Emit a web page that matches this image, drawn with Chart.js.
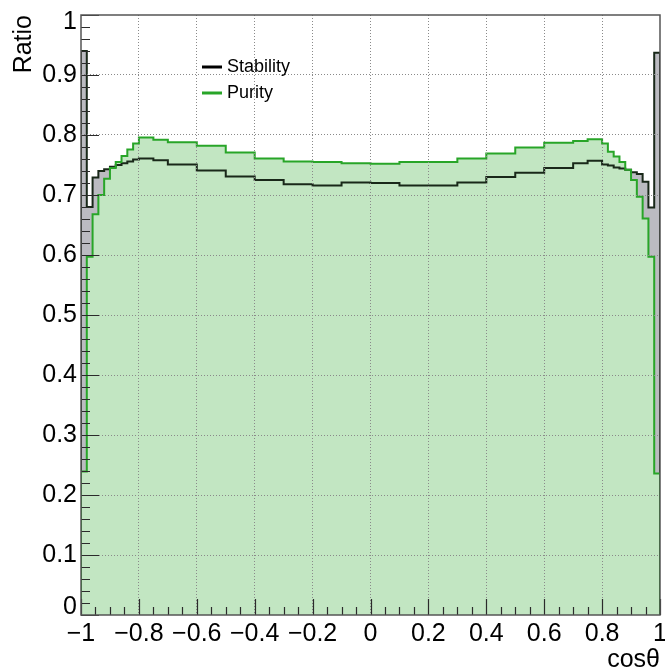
<!DOCTYPE html>
<html>
<head>
<meta charset="utf-8">
<script src="https://cdn.jsdelivr.net/npm/chart.js@4/dist/chart.umd.min.js"></script>
<style>
  html, body { margin: 0; padding: 0; background: #fff; }
  #wrap { width: 665px; height: 669px; }
</style>
</head>
<body>
<div id="wrap"><canvas id="ratioChart" width="665" height="669"></canvas></div>
<script>
// Bin edges in cos(theta): fine bins near the edges, wider in the middle
const binEdges = [-1, -0.98, -0.96, -0.94, -0.92, -0.9, -0.88, -0.86, -0.84, -0.82, -0.8,
    -0.75, -0.7, -0.6, -0.5, -0.4, -0.3, -0.2, -0.1, 0, 0.1, 0.2, 0.3, 0.4, 0.5, 0.6, 0.7, 0.75,
    0.8, 0.82, 0.84, 0.86, 0.88, 0.9, 0.92, 0.94, 0.96, 0.98, 1];

// Bin contents, one per bin
const stability = [0.940, 0.680, 0.729, 0.740, 0.743, 0.747, 0.750, 0.753, 0.756, 0.759,
    0.761, 0.758, 0.751, 0.741, 0.731, 0.725, 0.718, 0.716, 0.721,
    0.720, 0.716, 0.716, 0.721, 0.730, 0.737, 0.745, 0.753, 0.757,
    0.751, 0.749, 0.746, 0.744, 0.742, 0.738, 0.735, 0.722, 0.679, 0.937];

const purity = [0.239, 0.597, 0.668, 0.700, 0.727, 0.745, 0.755, 0.765, 0.776, 0.786,
    0.796, 0.792, 0.788, 0.782, 0.771, 0.761, 0.756, 0.755, 0.753,
    0.752, 0.755, 0.755, 0.761, 0.769, 0.779, 0.787, 0.790, 0.793,
    0.786, 0.772, 0.764, 0.755, 0.742, 0.725, 0.697, 0.661, 0.597, 0.236];

// Axis labels
const xTickLabels = ['\u22121', '\u22120.8', '\u22120.6', '\u22120.4', '\u22120.2', '0', '0.2', '0.4', '0.6', '0.8', '1'];
const yTickLabels = ['0', '0.1', '0.2', '0.3', '0.4', '0.5', '0.6', '0.7', '0.8', '0.9', '1'];
const legendNames = ['Stability', 'Purity'];

const FONT = "'Liberation Sans', Arial, Helvetica, sans-serif";
const STAB_FILL = 'rgb(187,187,193)';
const PUR_FILL = 'rgb(194,230,194)';
const PUR_LINE = 'rgb(40,165,40)';

// Turn bin contents into an outline that starts and ends on zero
function histPoints(values) {
    const n = binEdges.length - 1;
    const pts = [{ x: binEdges[0], y: 0 }];
    values.forEach((v, i) => pts.push({ x: binEdges[i], y: v }));
    pts.push({ x: binEdges[n], y: values[n - 1] });
    pts.push({ x: binEdges[n], y: 0 });
    return pts;
}

function histDataset(label, values, extra) {
    return Object.assign({
        label: label,
        data: histPoints(values),
        stepped: 'before',
        pointRadius: 0,
        tension: 0,
        fill: false,
        borderWidth: 0
    }, extra);
}

// Frame, inward ROOT-style ticks, tick labels, axis titles and legend
const frameAndLabels = {
    id: 'frameAndLabels',
    afterDraw(chart) {
        const { ctx, chartArea: a, scales: { x, y } } = chart;
        ctx.save();

        // minor ticks
        ctx.strokeStyle = '#2b2b2b';
        ctx.lineWidth = 1.2;
        ctx.beginPath();
        for (let v = 0; v <= 1.0001; v += 0.02) {
            const py = Math.round(y.getPixelForValue(v)) + 0.5;
            ctx.moveTo(a.left, py);
            ctx.lineTo(a.left + 9, py);
        }
        for (let v = -1; v <= 1.0001; v += 0.05) {
            const px = Math.round(x.getPixelForValue(v)) + 0.5;
            ctx.moveTo(px, a.bottom);
            ctx.lineTo(px, a.bottom - 8);
        }
        // major ticks
        y.ticks.forEach(t => {
            const py = Math.round(y.getPixelForValue(t.value)) + 0.5;
            ctx.moveTo(a.left, py);
            ctx.lineTo(a.left + 18, py);
        });
        x.ticks.forEach(t => {
            const px = Math.round(x.getPixelForValue(t.value)) + 0.5;
            ctx.moveTo(px, a.bottom);
            ctx.lineTo(px, a.bottom - 16);
        });
        ctx.stroke();

        // frame
        ctx.strokeStyle = '#555';
        ctx.lineWidth = 1.5;
        ctx.strokeRect(a.left, a.top, a.right - a.left, a.bottom - a.top);

        // tick labels
        ctx.fillStyle = '#000';
        ctx.font = '25px ' + FONT;
        ctx.textAlign = 'right';
        ctx.textBaseline = 'middle';
        y.ticks.forEach((t, i) => {
            let py = y.getPixelForValue(t.value);
            if (i === 0) py -= 8;
            if (i === y.ticks.length - 1) py += 7;
            ctx.fillText(yTickLabels[i], a.left - 4, py);
        });
        ctx.textAlign = 'center';
        ctx.textBaseline = 'alphabetic';
        x.ticks.forEach((t, i) => {
            ctx.fillText(xTickLabels[i], x.getPixelForValue(t.value), a.bottom + 26);
        });

        // axis titles
        ctx.textAlign = 'right';
        ctx.fillText('cos\u03b8', a.right, a.bottom + 52);
        ctx.save();
        ctx.translate(31, a.top);
        ctx.rotate(-Math.PI / 2);
        ctx.textAlign = 'right';
        ctx.fillText('Ratio', 0, 0);
        ctx.restore();

        // legend
        const lx = a.left + 121;
        const rows = [{ color: '#000', y: a.top + 52 }, { color: PUR_LINE, y: a.top + 78 }];
        ctx.font = '18px ' + FONT;
        ctx.textAlign = 'left';
        ctx.textBaseline = 'middle';
        rows.forEach((r, i) => {
            ctx.strokeStyle = r.color;
            ctx.lineWidth = 3;
            ctx.beginPath();
            ctx.moveTo(lx, r.y);
            ctx.lineTo(lx + 20, r.y);
            ctx.stroke();
            ctx.fillStyle = '#000';
            ctx.fillText(legendNames[i], lx + 25, r.y);
        });
        ctx.restore();
    }
};

const ctx = document.getElementById('ratioChart').getContext('2d');
new Chart(ctx, {
    type: 'line',
    data: {
        datasets: [
            // drawn last -> listed with the lowest order
            histDataset('Purity', purity, { borderColor: PUR_LINE, borderWidth: 2, order: 1 }),
            histDataset('Stability', stability, { borderColor: 'rgb(25,40,25)', borderWidth: 2, order: 2 }),
            histDataset('Purity fill', purity, { fill: 'origin', backgroundColor: PUR_FILL, order: 3 }),
            histDataset('Stability fill', stability, { fill: 'origin', backgroundColor: STAB_FILL, order: 4 })
        ]
    },
    options: {
        responsive: false,
        animation: false,
        devicePixelRatio: 1,
        layout: { padding: { top: 15, right: 5, left: 0, bottom: 0 } },
        plugins: {
            legend: { display: false },
            tooltip: { enabled: false }
        },
        scales: {
            x: {
                type: 'linear',
                min: -1,
                max: 1,
                ticks: { stepSize: 0.2, display: false },
                grid: {
                    z: 1,
                    drawTicks: false,
                    lineWidth: 1,
                    color: c => (Math.abs(Math.abs(c.tick.value) - 1) < 1e-6) ? 'rgba(0,0,0,0)' : '#8a8a8a'
                },
                border: { display: false, dash: [1, 2] },
                afterFit: scale => { scale.height = 54; }
            },
            y: {
                type: 'linear',
                min: 0,
                max: 1,
                ticks: { stepSize: 0.1, display: false },
                grid: {
                    z: 1,
                    drawTicks: false,
                    lineWidth: 1,
                    color: c => (c.tick.value < 1e-6 || c.tick.value > 1 - 1e-6) ? 'rgba(0,0,0,0)' : '#8a8a8a'
                },
                border: { display: false, dash: [1, 2] },
                afterFit: scale => { scale.width = 81; }
            }
        }
    },
    plugins: [frameAndLabels]
});
</script>
</body>
</html>
